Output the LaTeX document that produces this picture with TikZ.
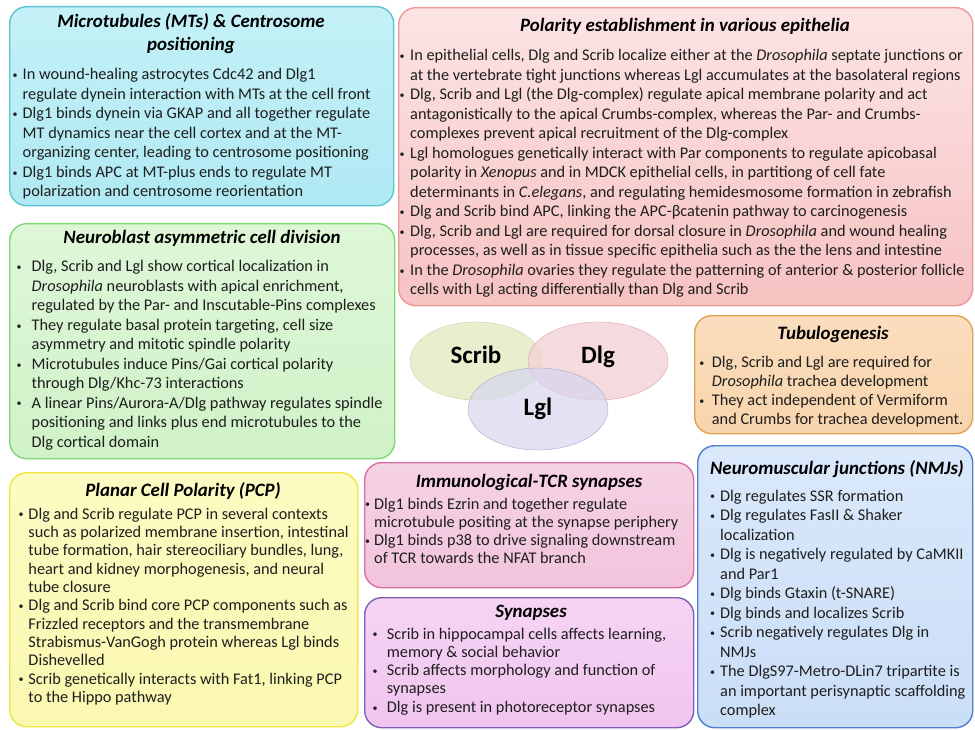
\documentclass[tikz,border=0pt]{standalone}
\usepackage{fontspec}
\setmainfont{Carlito}
\usetikzlibrary{positioning,shapes.geometric}

\definecolor{txtgry}{HTML}{1E1E1E}
\definecolor{cynline}{HTML}{5BC3D3}
\definecolor{pnkline}{HTML}{E99A9A}
\definecolor{grnline}{HTML}{7FD873}
\definecolor{yelline}{HTML}{EEE540}
\definecolor{orgline}{HTML}{E3A24F}
\definecolor{magline}{HTML}{D86FA6}
\definecolor{lilline}{HTML}{7D5FB5}
\definecolor{bluline}{HTML}{4D80D2}

\newlength{\bulw}
\newcommand{\itm}{\par\hangindent=\bulw\hangafter=1\noindent\makebox[\bulw][l]{\raisebox{1.2pt}{\fontsize{10}{10}\selectfont\textbullet}}}
\newcommand{\blist}[3]{\begin{minipage}[t]{#1}\setlength{\bulw}{#2}\raggedright#3\end{minipage}}

\tikzset{
    rnd/.style={rectangle,rounded corners=17pt,line width=1.4pt,anchor=north west,inner sep=0pt},
    rndcyn/.style={rnd,draw=cynline,top color={rgb,255:red,196;green,241;blue,247},bottom color={rgb,255:red,176;green,233;blue,243}},
    rndpnk/.style={rnd,draw=pnkline,top color={rgb,255:red,252;green,228;blue,228},bottom color={rgb,255:red,247;green,194;blue,194}},
    rndgrn/.style={rnd,draw=grnline,top color={rgb,255:red,222;green,247;blue,216},bottom color={rgb,255:red,208;green,242;blue,200}},
    rndyel/.style={rnd,draw=yelline,top color={rgb,255:red,252;green,251;blue,194},bottom color={rgb,255:red,250;green,248;blue,176}},
    rndorg/.style={rnd,draw=orgline,top color={rgb,255:red,250;green,222;blue,190},bottom color={rgb,255:red,248;green,212;blue,172}},
    rndmag/.style={rnd,draw=magline,top color={rgb,255:red,245;green,210;blue,228},bottom color={rgb,255:red,242;green,196;blue,220}},
    rndlil/.style={rnd,draw=lilline,top color={rgb,255:red,246;green,212;blue,244},bottom color={rgb,255:red,240;green,196;blue,238}},
    rndblu/.style={rnd,draw=bluline,top color={rgb,255:red,218;green,232;blue,250},bottom color={rgb,255:red,202;green,222;blue,247}},
    ttl/.style={inner sep=0pt,anchor=base,text=black,font=\fontsize{18.9}{23}\selectfont\bfseries\itshape},
    txt/.style={inner sep=0pt,anchor=base west,text=txtgry,font=\fontsize{16.3}{#1}\selectfont},
    txt/.default=19.5,
    elgrn/.style={ellipse,draw={rgb,255:red,201;green,211;blue,164},fill={rgb,255:red,226;green,233;blue,192},fill opacity=.75,text opacity=1,minimum width=132pt,minimum height=78pt,inner sep=0pt,font=\fontsize{25}{30}\selectfont\bfseries,text height=16pt,text depth=12pt},
    elred/.style={ellipse,draw={rgb,255:red,221;green,163;blue,171},fill={rgb,255:red,243;green,208;blue,212},fill opacity=.75,text opacity=1,minimum width=140pt,minimum height=78pt,inner sep=0pt,font=\fontsize{25}{30}\selectfont\bfseries,text height=16pt,text depth=12pt},
    elpur/.style={ellipse,draw={rgb,255:red,169;green,169;blue,207},fill={rgb,255:red,214;green,214;blue,238},fill opacity=.7,text opacity=1,minimum width=140pt,minimum height=82pt,inner sep=0pt,font=\fontsize{25}{30}\selectfont\bfseries}
}

\begin{document}
\begin{tikzpicture}[x=1pt,y=-1pt]
    \path[use as bounding box,fill=white] (0,0) rectangle (975,730);

    \node[rndcyn,minimum width=384,minimum height=199] (mtbox) at (9,6) {};
    \node[rndpnk,minimum width=574,minimum height=298] (polbox) at (398,7) {};
    \node[rndgrn,minimum width=385,minimum height=235] (nbbox) at (9,223) {};
    \node[rndyel,minimum width=348,minimum height=254] (pcpbox) at (9,472) {};
    \node[rndorg,minimum width=278,minimum height=118] (tubbox) at (694,315) {};
    \node[rndmag,minimum width=329,minimum height=125] (immbox) at (364,462) {};
    \node[rndlil,minimum width=329,minimum height=130] (synbox) at (364,597) {};
    \node[rndblu,minimum width=275,minimum height=282] (nmjbox) at (697,445) {};

    \node[ttl] (mtttl) at (191,28) {\begin{minipage}[t]{360pt}\centering Microtubules (MTs) \& Centrosome\\positioning\end{minipage}};
    \node[txt] (mttxt) at (12.5,80) {\blist{400pt}{10pt}{%
        \itm In wound-healing astrocytes Cdc42 and Dlg1\newline regulate dynein interaction with MTs at the cell front
        \itm Dlg1 binds dynein via GKAP and all together regulate\newline MT dynamics near the cell cortex and at the MT-\newline organizing center, leading to centrosome positioning
        \itm Dlg1 binds APC at MT-plus ends to regulate MT\newline polarization and centrosome reorientation}};

    \node[ttl] (polttl) at (685,32) {Polarity establishment in various epithelia};
    \node[txt=19.5] (poltxt) at (399.5,61) {\blist{620pt}{10.5pt}{%
        \itm In epithelial cells, Dlg and Scrib localize either at the \textit{Drosophila} septate junctions or\newline at the vertebrate tight junctions whereas Lgl accumulates at the basolateral regions
        \itm Dlg, Scrib and Lgl (the Dlg-complex) regulate apical membrane polarity and act\newline antagonistically to the apical Crumbs-complex, whereas the Par- and Crumbs-\newline complexes prevent apical recruitment of the Dlg-complex
        \itm Lgl homologues genetically interact with Par components to regulate apicobasal\newline polarity in \textit{Xenopus} and in MDCK epithelial cells, in partitiong of cell fate\newline determinants in \textit{C.elegans}, and regulating hemidesmosome formation in zebrafish
        \itm Dlg and Scrib bind APC, linking the APC-βcatenin pathway to carcinogenesis
        \itm Dlg, Scrib and Lgl are required for dorsal closure in \textit{Drosophila} and wound healing\newline processes, as well as in tissue specific epithelia such as the the lens and intestine
        \itm In the \textit{Drosophila} ovaries they regulate the patterning of anterior \& posterior follicle\newline cells with Lgl acting differentially than Dlg and Scrib}};

    \node[ttl] (nbttl) at (202,244) {Neuroblast asymmetric cell division};
    \node[txt=19.45] (nbtxt) at (16.5,272) {\blist{400pt}{15pt}{%
        \itm Dlg, Scrib and Lgl show cortical localization in\newline \textit{Drosophila} neuroblasts with apical enrichment,\newline regulated by the Par- and Inscutable-Pins complexes
        \itm They regulate basal protein targeting, cell size\newline asymmetry and mitotic spindle polarity
        \itm Microtubules induce Pins/Gai cortical polarity\newline through Dlg/Khc-73 interactions
        \itm A linear Pins/Aurora-A/Dlg pathway regulates spindle\newline positioning and links plus end microtubules to the\newline Dlg cortical domain}};

    \node[ttl] (pcpttl) at (183,496) {Planar Cell Polarity (PCP)};
    \node[txt=18.35] (pcptxt) at (18.5,519) {\blist{380pt}{9.8pt}{%
        \itm Dlg and Scrib regulate PCP in several contexts\newline such as polarized membrane insertion, intestinal\newline tube formation, hair stereociliary bundles, lung,\newline heart and kidney morphogenesis, and neural\newline tube closure
        \itm Dlg and Scrib bind core PCP components such as\newline Frizzled receptors and the transmembrane\newline Strabismus-VanGogh protein whereas Lgl binds\newline Dishevelled
        \itm Scrib genetically interacts with Fat1, linking PCP\newline to the Hippo pathway}};

    \node[ttl] (tubttl) at (833,339) {Tubulogenesis};
    \node[txt=19] (tubtxt) at (699.2,367.5) {\blist{300pt}{12.5pt}{%
        \itm Dlg, Scrib and Lgl are required for\newline \textit{Drosophila} trachea development
        \itm They act independent of Vermiform\newline and Crumbs for trachea development.}};

    \node[ttl] (immttl) at (529,487) {Immunological-TCR synapses};
    \node[txt=18.3] (immtxt) at (364.8,509) {\blist{360pt}{9.2pt}{%
        \itm Dlg1 binds Ezrin and together regulate\newline microtubule positing at the synapse periphery
        \itm Dlg1 binds p38 to drive signaling downstream\newline of TCR towards the NFAT branch}};

    \node[ttl] (synttl) at (531,617) {Synapses};
    \node[txt=18.3] (syntxt) at (372.5,639) {\blist{360pt}{14.2pt}{%
        \itm Scrib in hippocampal cells affects learning,\newline memory \& social behavior
        \itm Scrib affects morphology and function of\newline synapses
        \itm Dlg is present in photoreceptor synapses}};

    \node[ttl] (nmjttl) at (837,474) {Neuromuscular junctions (NMJs)};
    \node[txt=19.5] (nmjtxt) at (710,501) {\blist{300pt}{10pt}{%
        \itm Dlg regulates SSR formation
        \itm Dlg regulates FasII \& Shaker\newline localization
        \itm Dlg is negatively regulated by CaMKII\newline and Par1
        \itm Dlg binds Gtaxin (t-SNARE)
        \itm Dlg binds and localizes Scrib
        \itm Scrib negatively regulates Dlg in\newline NMJs
        \itm The DlgS97-Metro-DLin7 tripartite is\newline an important perisynaptic scaffolding\newline complex}};

    \begin{scope}
        \node[elgrn] (scrib) at (476,361) {Scrib};
        \node[elred] (dlg) at (598,361) {Dlg};
        \node[elpur] (lgl) at (538,409) {Lgl};
    \end{scope}
\end{tikzpicture}
\end{document}
